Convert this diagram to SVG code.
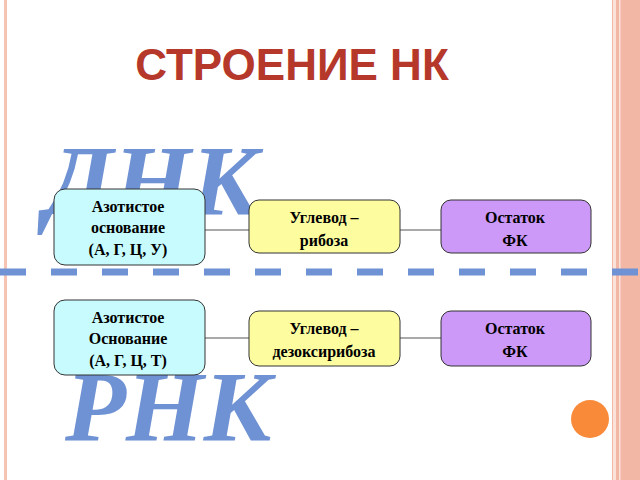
<svg xmlns="http://www.w3.org/2000/svg" width="640" height="480" viewBox="0 0 640 480">
<style>
.t{font-family:"Liberation Serif",serif;font-weight:bold;font-size:16px;fill:#000;text-anchor:middle}
.big{font-family:"Liberation Serif",serif;font-weight:bold;font-style:italic;font-size:100px;fill:#6f92d4}
.box{stroke:#333;stroke-width:1}
.ln{stroke:#555;stroke-width:1}
</style>
<rect width="640" height="480" fill="#fff"/>
<rect x="4" y="0" width="3" height="480" fill="#f7c4b4"/>
<rect x="612" y="0" width="28" height="480" fill="#f2b7a5"/>
<rect x="613" y="0" width="3" height="480" fill="#fbe3da"/>
<rect x="619" y="0" width="1.5" height="480" fill="#fbe3da"/>
<text x="292" y="80" font-family="Liberation Sans,sans-serif" font-weight="bold" font-size="44" fill="#b5382a" text-anchor="middle">СТРОЕНИЕ НК</text>
<text class="big" x="45" y="214">ДНК</text>
<text class="big" x="65" y="440">РНК</text>
<line x1="0" y1="272" x2="640" y2="272" stroke="#6f92d4" stroke-width="7" stroke-dasharray="26,25"/>
<g id="connectors">
<line class="ln" x1="205" y1="230" x2="249" y2="230"/>
<line class="ln" x1="400" y1="230" x2="441" y2="230"/>
<line class="ln" x1="205" y1="338" x2="249" y2="338"/>
<line class="ln" x1="400" y1="338" x2="441" y2="338"/>
</g>
<g id="n1"><rect class="box" x="54" y="189" width="151" height="76" rx="11" fill="#c8fbfd"/>
<text class="t" x="128" y="212">Азотистое</text><text class="t" x="128" y="233">основание</text><text class="t" x="128" y="255">(А, Г, Ц, У)</text></g>
<g id="n2"><rect class="box" x="249" y="200" width="151" height="53" rx="10" fill="#fdfda0"/>
<text class="t" x="324" y="223">Углевод –</text><text class="t" x="324" y="246">рибоза</text></g>
<g id="n3"><rect class="box" x="441" y="200" width="150" height="53" rx="10" fill="#cc99f9"/>
<text class="t" x="515" y="223">Остаток</text><text class="t" x="515" y="246">ФК</text></g>
<g id="n4"><rect class="box" x="54" y="300" width="151" height="75" rx="11" fill="#c8fbfd"/>
<text class="t" x="128" y="323">Азотистое</text><text class="t" x="128" y="344">Основание</text><text class="t" x="128" y="366">(А, Г, Ц, Т)</text></g>
<g id="n5"><rect class="box" x="249" y="311" width="151" height="55" rx="10" fill="#fdfda0"/>
<text class="t" x="324" y="334">Углевод –</text><text class="t" x="324" y="357">дезоксирибоза</text></g>
<g id="n6"><rect class="box" x="441" y="311" width="150" height="55" rx="10" fill="#cc99f9"/>
<text class="t" x="515" y="334">Остаток</text><text class="t" x="515" y="357">ФК</text></g>
<circle cx="590" cy="419" r="19" fill="#f98a3a"/>
</svg>
